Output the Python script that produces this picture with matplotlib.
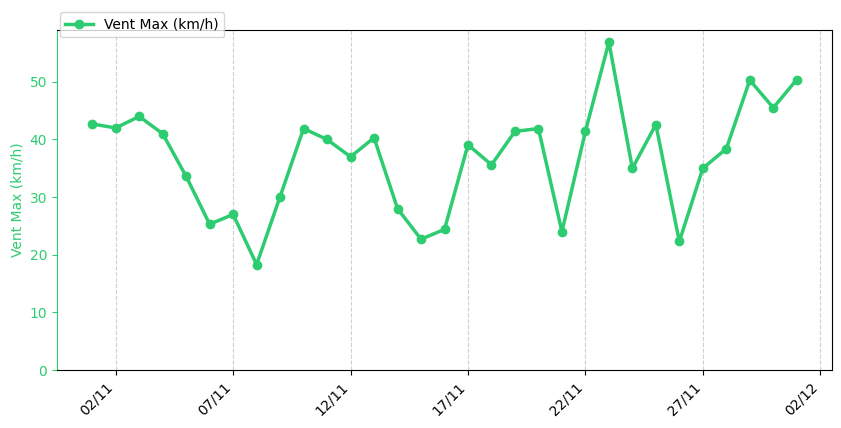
import matplotlib
matplotlib.use('Agg')
import matplotlib.pyplot as plt
import matplotlib.dates as mdates
import numpy as np

dates = np.arange(np.datetime64('2024-11-01'), np.datetime64('2024-12-02'))
vent_max = [42.7, 42.0, 44.0, 41.0, 33.6, 25.3, 27.0, 18.3, 30.1, 41.9,
            40.0, 37.0, 40.3, 28.0, 22.7, 24.4, 39.1, 35.6, 41.4, 41.9,
            24.0, 41.4, 56.9, 35.0, 42.6, 22.3, 35.0, 38.4, 50.3, 45.5, 50.4]
clr = '#2ecc71'

fig = plt.figure(figsize=(8.41, 4.28), dpi=100)
ax = fig.add_axes([57/841, 58/428, 775/841, 340/428])
ax.plot(dates.astype('datetime64[D]').astype(object), vent_max, '-o', color=clr,
        linewidth=2.5, markersize=6, label='Vent Max (km/h)')
ax.set_ylim(0, 59)
ax.set_xlim(np.datetime64('2024-10-30T12').astype(object), np.datetime64('2024-12-02T12').astype(object))
ax.xaxis.set_major_locator(mdates.DayLocator(bymonthday=[2, 7, 12, 17, 22, 27]))
ax.xaxis.set_major_formatter(mdates.DateFormatter('%d/%m'))
ax.set_ylabel('Vent Max (km/h)', color=clr)
ax.tick_params(axis='y', colors=clr)
ax.spines['left'].set_color(clr)
ax.grid(axis='x', linestyle='--', alpha=0.6)
plt.setp(ax.get_xticklabels(), rotation=45, ha='right')
ax.legend(loc='lower left', bbox_to_anchor=(0, 0.97), borderaxespad=0.2)
fig.savefig('out.png', dpi=100)
